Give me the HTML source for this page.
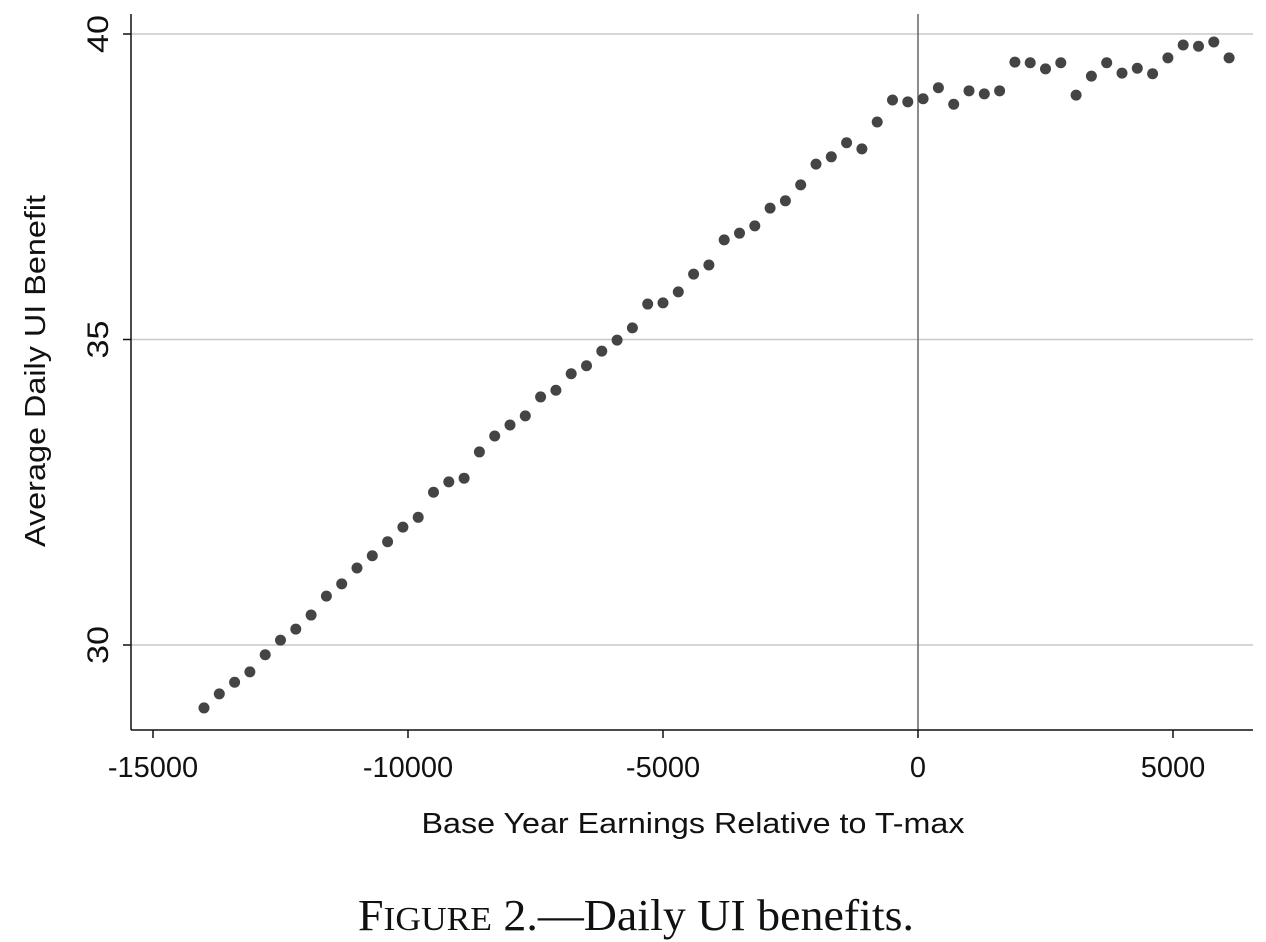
<!DOCTYPE html>
<html><head><meta charset="utf-8"><style>
html,body{margin:0;padding:0;background:#fff;}
svg{display:block;font-family:"Liberation Sans",sans-serif;}
</style></head><body>
<svg id="chart" width="1266" height="942" viewBox="0 0 1266 942" xmlns="http://www.w3.org/2000/svg">
<g id="grid"></g>
<g id="axes"></g>
<g id="points"></g>
<text transform="translate(45,371) rotate(-90)" text-anchor="middle" font-size="29" textLength="352" lengthAdjust="spacingAndGlyphs" fill="#111">Average Daily UI Benefit</text>
<text x="693" y="833" text-anchor="middle" font-size="29" textLength="543" lengthAdjust="spacingAndGlyphs" fill="#111">Base Year Earnings Relative to T-max</text>
<text x="636" y="930" text-anchor="middle" font-family="'Liberation Serif',serif" font-size="44" textLength="556" lengthAdjust="spacingAndGlyphs" fill="#111">F<tspan font-size="34">IGURE</tspan> 2.—Daily UI benefits.</text>
</svg>
<script>
const xVals=[-14000,-13700,-13400,-13100,-12800,-12500,-12200,-11900,-11600,-11300,-11000,-10700,-10400,-10100,-9800,-9500,-9200,-8900,-8600,-8300,-8000,-7700,-7400,-7100,-6800,-6500,-6200,-5900,-5600,-5300,-5000,-4700,-4400,-4100,-3800,-3500,-3200,-2900,-2600,-2300,-2000,-1700,-1400,-1100,-800,-500,-200,100,400,700,1000,1300,1600,1900,2200,2500,2800,3100,3400,3700,4000,4300,4600,4900,5200,5500,5800,6100];
const yVals=[28.97,29.20,29.39,29.56,29.84,30.08,30.26,30.49,30.80,31.00,31.26,31.46,31.69,31.93,32.09,32.50,32.67,32.73,33.16,33.42,33.60,33.75,34.06,34.17,34.44,34.57,34.81,34.99,35.19,35.58,35.60,35.78,36.07,36.22,36.63,36.74,36.86,37.15,37.27,37.53,37.87,37.99,38.22,38.12,38.56,38.92,38.89,38.94,39.12,38.85,39.07,39.02,39.07,39.54,39.53,39.43,39.53,39.00,39.31,39.53,39.36,39.44,39.35,39.61,39.82,39.80,39.87,39.61];
const xTicks=[-15000,-10000,-5000,0,5000];
const yTicks=[30,35,40];
const NS="http://www.w3.org/2000/svg";
const X=v=>918+v*0.051;
const Y=v=>34+(40-v)*61.1;
function mk(tag,attrs,parent){const e=document.createElementNS(NS,tag);for(const k in attrs)e.setAttribute(k,attrs[k]);parent.appendChild(e);return e;}
const grid=document.getElementById('grid'),axes=document.getElementById('axes'),pts=document.getElementById('points');
yTicks.forEach(t=>{
  const g=mk('line',{x1:131,x2:1253,y1:Y(t),y2:Y(t),stroke:'#c8c8c8','stroke-width':1.5},grid);
  
  
  const tk=mk('line',{x1:123,x2:131,y1:Y(t),y2:Y(t),stroke:'#111','stroke-width':1.5},axes);
  
  
  const tx=mk('text',{transform:`translate(108,${Y(t)}) rotate(-90)`,'text-anchor':'middle','font-size':30,textLength:38,lengthAdjust:'spacingAndGlyphs',fill:'#111'},axes);
  tx.textContent=t;
  
  
});
const zl=mk('line',{x1:X(0),x2:X(0),y1:14,y2:730,stroke:'#666','stroke-width':1.5},grid);


const ya=mk('line',{x1:131,x2:131,y1:14,y2:730,stroke:'#111','stroke-width':1.5},axes);


const xa=mk('line',{x1:131,x2:1253,y1:730,y2:730,stroke:'#111','stroke-width':1.5},axes);


xTicks.forEach(t=>{
  const tk=mk('line',{x1:X(t),x2:X(t),y1:730,y2:738,stroke:'#111','stroke-width':1.5},axes);
  
  
  const tx=mk('text',{x:X(t),y:777,'text-anchor':'middle','font-size':29,fill:'#111'},axes);
  tx.textContent=t;
  
  
});
xVals.forEach((x,i)=>{
  const c=mk('circle',{cx:X(x),cy:Y(yVals[i]),r:5.5,fill:'#444'},pts);
  
  
});
</script>
</body></html>
